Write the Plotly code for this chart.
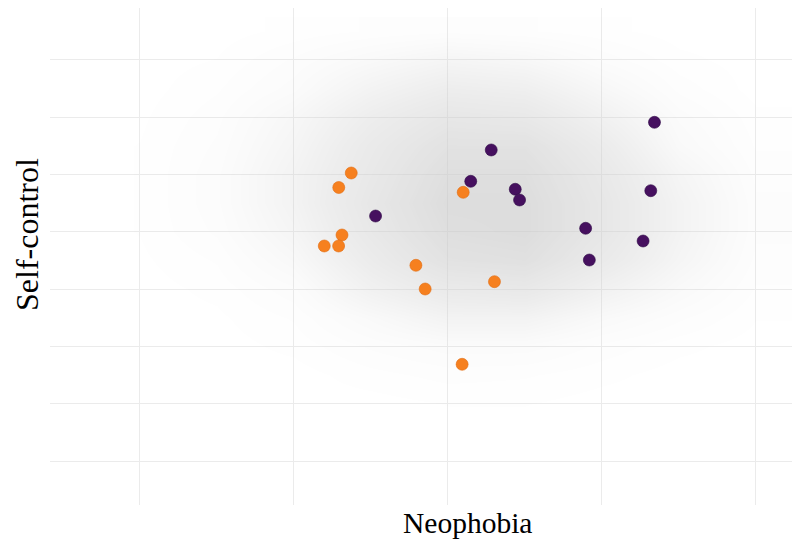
import plotly.graph_objects as go

# Highlighted individuals (Neophobia, Self-control)
orange_x = [2.372, 2.291, 2.312, 2.197, 2.290, 3.099, 2.792, 2.852, 3.302, 3.092]
orange_y = [6.027, 5.774, 4.945, 4.753, 4.753, 5.690, 4.416, 4.002, 4.130, 2.688]
purple_x = [2.530, 3.281, 3.148, 3.437, 3.465, 3.894, 3.918, 4.341, 4.317, 4.267]
purple_y = [5.276, 6.429, 5.882, 5.743, 5.556, 5.062, 4.508, 6.912, 5.718, 4.840]

# Background population: density of the grey cloud, estimated on a coarse grid
grid_x = [0.5, 1.0, 1.5, 2.0, 2.5, 3.0, 3.5, 4.0, 4.5, 5.0]
grid_y = [1.0, 1.5, 2.0, 2.5, 3.0, 3.5, 4.0, 4.5, 5.0, 5.5, 6.0, 6.5, 7.0, 7.5, 8.0, 8.5]
density = [
    [0, 0,    0,    0,    0,    0,    0,    0,    0,    0],     # 1.0
    [0, 0,    0,    0,    0,    0,    0,    0,    0,    0],     # 1.5
    [0, 0,    0,    0,    0,    0.02, 0.02, 0,    0,    0],     # 2.0
    [0, 0,    0,    0,    0.04, 0.07, 0.06, 0.03, 0,    0],     # 2.5
    [0, 0,    0,    0.03, 0.10, 0.15, 0.15, 0.08, 0.03, 0],     # 3.0
    [0, 0,    0.01, 0.06, 0.20, 0.35, 0.35, 0.20, 0.10, 0.02],  # 3.5
    [0, 0,    0.03, 0.12, 0.40, 0.60, 0.65, 0.40, 0.20, 0.05],  # 4.0
    [0, 0.01, 0.06, 0.22, 0.55, 0.85, 0.90, 0.60, 0.30, 0.08],  # 4.5
    [0, 0.02, 0.10, 0.30, 0.65, 0.95, 1.00, 0.70, 0.35, 0.10],  # 5.0
    [0, 0.02, 0.12, 0.35, 0.70, 1.00, 1.00, 0.70, 0.35, 0.10],  # 5.5
    [0, 0.02, 0.12, 0.35, 0.65, 0.95, 0.95, 0.65, 0.30, 0.08],  # 6.0
    [0, 0.02, 0.10, 0.30, 0.60, 0.85, 0.85, 0.55, 0.20, 0.05],  # 6.5
    [0, 0.01, 0.08, 0.25, 0.50, 0.70, 0.65, 0.40, 0.15, 0.03],  # 7.0
    [0, 0,    0.05, 0.15, 0.35, 0.50, 0.45, 0.25, 0.08, 0],     # 7.5
    [0, 0,    0.02, 0.10, 0.20, 0.30, 0.25, 0.12, 0.03, 0],     # 8.0
    [0, 0,    0,    0.03, 0.06, 0.08, 0.06, 0.03, 0,    0],     # 8.5
]

fig = go.Figure()

fig.add_trace(go.Heatmap(
    x=grid_x, y=grid_y, z=density, zsmooth="best",
    colorscale=[[0, "rgba(205,205,205,0)"], [0.15, "rgba(205,205,205,0.08)"],
                [0.5, "rgba(205,205,205,0.36)"], [1, "rgba(200,200,200,0.62)"]],
    zmin=0, zmax=1, showscale=False, hoverinfo="skip",
))

fig.add_trace(go.Scatter(
    x=orange_x, y=orange_y, mode="markers",
    marker=dict(size=12, color="#F6801F", line=dict(width=0.6, color="#E06C10")),
    showlegend=False,
))
fig.add_trace(go.Scatter(
    x=purple_x, y=purple_y, mode="markers",
    marker=dict(size=12, color="#46105F", line=dict(width=0.6, color="#2E0845")),
    showlegend=False,
))

# page body has an 8px offset; margins compensate so the panel lands at 50..792 x 8..505
W, H = 800, 550
l, r, t, b = 42, 16, 0, 53
off = 8
pw, ph = W - l - r, H - t - b


def paper(px, py):
    return (px - off - l) / pw, 1 - (py - off - t) / ph


nx, ny = paper(467, 523)
sx, sy = paper(27, 235)

fig.update_layout(
    width=W, height=H,
    margin=dict(l=l, r=r, t=t, b=b, pad=0),
    paper_bgcolor="white", plot_bgcolor="white",
    showlegend=False,
    xaxis=dict(range=[0.416, 5.234], dtick=1, tick0=0, showticklabels=False,
               showgrid=True, gridcolor="#EBEBEB", gridwidth=1, zeroline=False,
               showline=False, ticks=""),
    yaxis=dict(range=[0.232, 8.907], dtick=1, tick0=0, showticklabels=False,
               showgrid=True, gridcolor="#EBEBEB", gridwidth=1, zeroline=False,
               showline=False, ticks=""),
    annotations=[
        dict(text="Neophobia", x=nx, y=ny, xref="paper", yref="paper",
             xanchor="center", yanchor="middle", showarrow=False,
             font=dict(family="Liberation Serif", size=29.5, color="black")),
        dict(text="Self-control", x=sx, y=sy, xref="paper", yref="paper",
             xanchor="center", yanchor="middle", textangle=-90, showarrow=False,
             font=dict(family="Liberation Serif", size=32, color="black")),
    ],
)

fig.write_html("out.html")
